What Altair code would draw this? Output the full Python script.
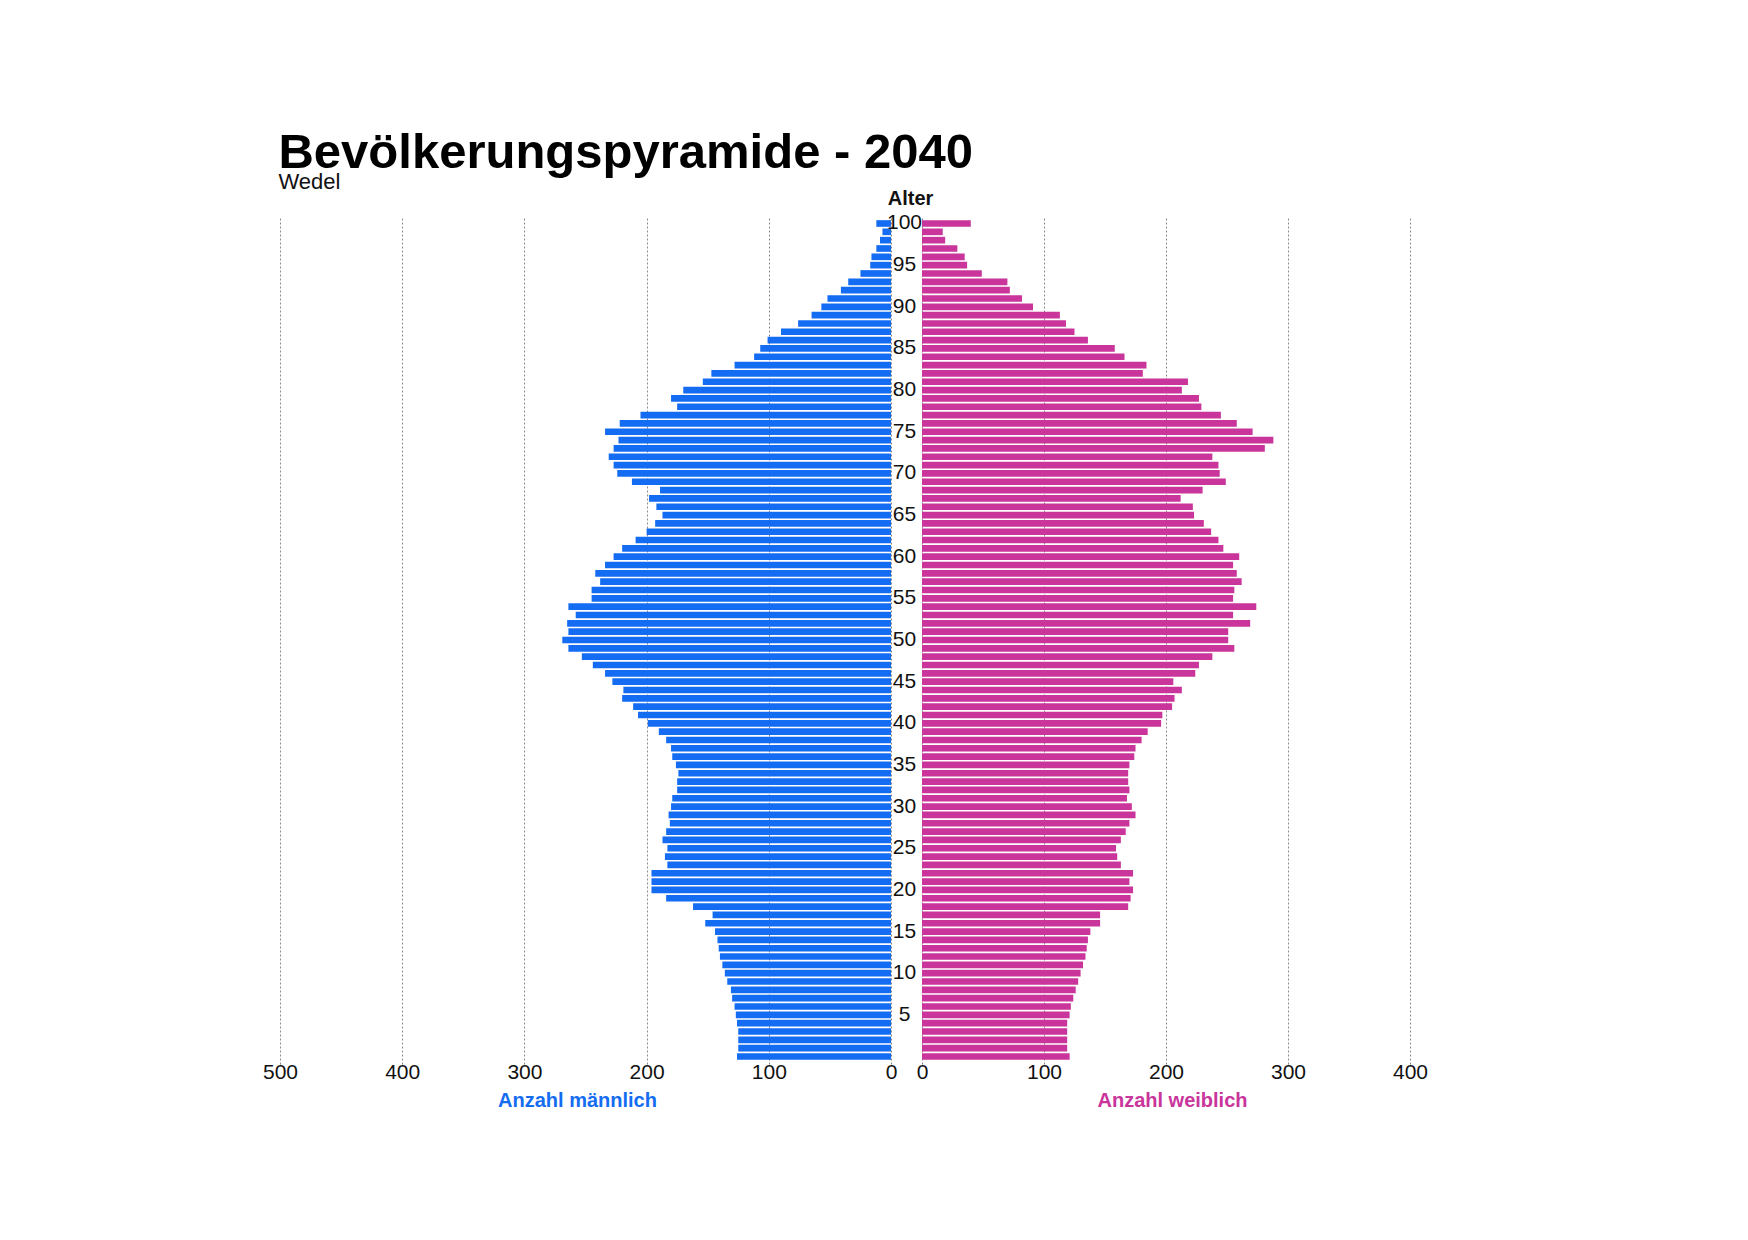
import altair as alt
import pandas as pd

ages = list(range(0, 101))

male = [126, 125, 125, 125, 126, 127, 128, 130, 131, 134,
        136, 138, 140, 141, 142, 144, 152, 146, 162, 184,
        196, 196, 196, 183, 185, 183, 187, 184, 181, 182,
        180, 179, 175, 175, 174, 176, 179, 180, 184, 190,
        199, 207, 211, 220, 219, 228, 234, 244, 253, 264,
        269, 264, 265, 258, 264, 245, 245, 238, 242, 234,
        227, 220, 209, 200, 193, 187, 192, 198, 189, 212,
        224, 227, 231, 227, 223, 234, 222, 205, 175, 180,
        170, 154, 147, 128, 112, 107, 101, 90, 76, 65,
        57, 52, 41, 35, 25, 17, 16, 12, 9, 7,
        12]

female = [121, 119, 119, 119, 119, 121, 122, 124, 126, 128,
          130, 132, 134, 135, 136, 138, 146, 146, 169, 171,
          173, 170, 173, 163, 160, 159, 163, 167, 170, 175,
          172, 168, 170, 169, 169, 170, 174, 175, 180, 185,
          196, 197, 205, 207, 213, 206, 224, 227, 238, 256,
          251, 251, 269, 255, 274, 255, 256, 262, 258, 255,
          260, 247, 243, 237, 231, 223, 222, 212, 230, 249,
          244, 243, 238, 281, 288, 271, 258, 245, 229, 227,
          213, 218, 181, 184, 166, 158, 136, 125, 118, 113,
          91, 82, 72, 70, 49, 37, 35, 29, 19, 17,
          40]

age_ticks = list(range(5, 101, 5))
left_ticks = [0, 100, 200, 300, 400, 500]
right_ticks = [0, 100, 200, 300, 400]

BLUE = "#146cf2"
MAGENTA = "#c9359b"
FONT = "Liberation Sans"
GRID = "#888888"

df = pd.DataFrame({"age": ages, "male": male, "female": female})

yscale = alt.Scale(paddingInner=0.2, paddingOuter=0.5)

left = alt.Chart(df).mark_bar(color=BLUE).encode(
    x=alt.X("male:Q",
            scale=alt.Scale(domain=[0, 500], reverse=True, nice=False),
            axis=alt.Axis(values=left_ticks, grid=True, gridDash=[2, 2],
                          gridColor=GRID, gridWidth=1, domain=False,
                          ticks=False, labelFontSize=21, labelColor="#111111",
                          labelPadding=-3, labelFlush=False,
                          title="Anzahl männlich", titleColor=BLUE,
                          titleFontSize=20, titleFontWeight="bold",
                          titlePadding=8, titleX=297, titleAlign="center")),
    y=alt.Y("age:O", sort="descending", scale=yscale, axis=None),
).properties(width=611, height=848)

right = alt.Chart(df).mark_bar(color=MAGENTA).encode(
    x=alt.X("female:Q",
            scale=alt.Scale(domain=[0, 400], nice=False),
            axis=alt.Axis(values=right_ticks, grid=True, gridDash=[2, 2],
                          gridColor=GRID, gridWidth=1, domain=False,
                          ticks=False, labelFontSize=21, labelColor="#111111",
                          labelPadding=-3, labelFlush=False,
                          title="Anzahl weiblich", titleColor=MAGENTA,
                          titleFontSize=20, titleFontWeight="bold",
                          titlePadding=8, titleX=250, titleAlign="center")),
    y=alt.Y("age:O", sort="descending", scale=yscale,
            axis=alt.Axis(orient="left", values=age_ticks, domain=False,
                          ticks=False, grid=False, labelAlign="center",
                          labelBaseline="middle", labelPadding=18,
                          labelOverlap=False, labelBound=False,
                          labelFontSize=21, labelColor="#111111", zindex=1,
                          title="Alter", titleAngle=0, titleX=-12, titleY=-18,
                          titleAlign="center", titleBaseline="middle",
                          titleFontSize=20, titleFontWeight="bold",
                          titleColor="#111111")),
).properties(width=611 - 123, height=848)

chart = alt.hconcat(left, right, spacing=31, bounds="flush").properties(
    title=alt.TitleParams(
        text="Bevölkerungspyramide - 2040",
        subtitle="Wedel",
        anchor="start",
        font=FONT,
        fontSize=49,
        fontWeight="bold",
        color="#000000",
        subtitleFont=FONT,
        subtitleFontSize=22,
        subtitleColor="#111111",
        subtitlePadding=-6,
        offset=-5,
        dx=16,
    ),
    padding={"left": 254, "top": 121, "right": 20, "bottom": 20},
).configure(font=FONT).configure_view(stroke=None)

chart.save("out.html", embed_options={"renderer": "svg", "actions": False})
